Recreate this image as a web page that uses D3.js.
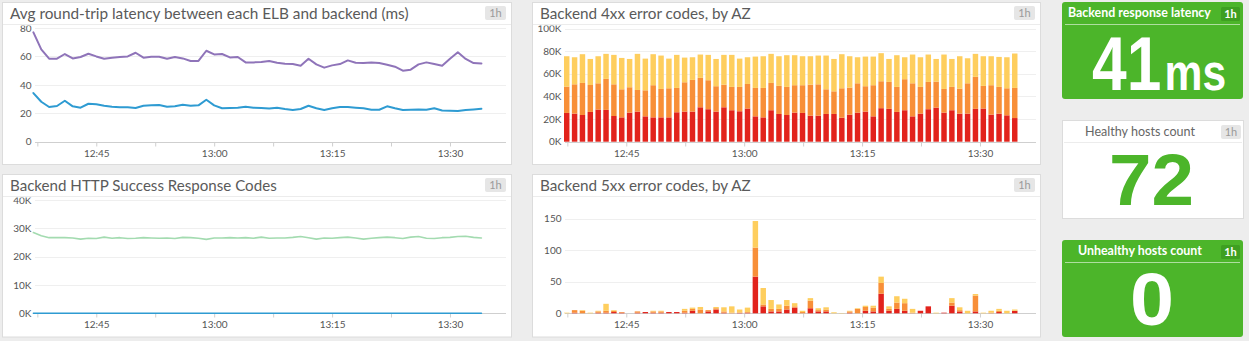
<!DOCTYPE html>
<html><head><meta charset="utf-8">
<script src="https://cdn.jsdelivr.net/npm/d3@7"></script>
<style>
html,body{margin:0;padding:0;background:#ededed;}
svg{display:block;font-family:Lato,"Open Sans",sans-serif;}
</style></head><body>
<svg id="c" width="1249" height="341"></svg>
<script>
// ---------- data ----------
const minutes = ["12:37","12:38","12:39","12:40","12:41","12:42","12:43","12:44","12:45","12:46",
"12:47","12:48","12:49","12:50","12:51","12:52","12:53","12:54","12:55","12:56",
"12:57","12:58","12:59","13:00","13:01","13:02","13:03","13:04","13:05","13:06",
"13:07","13:08","13:09","13:10","13:11","13:12","13:13","13:14","13:15","13:16",
"13:17","13:18","13:19","13:20","13:21","13:22","13:23","13:24","13:25","13:26",
"13:27","13:28","13:29","13:30","13:31","13:32","13:33","13:34"];
const timeDomain = ["12:37","13:37"];
const timeTickLabels = ["12:45","13:00","13:15","13:30"];
const timeMinorTicks = ["12:37:30","12:52:30","13:07:30","13:22:30"];

// Avg round-trip latency (ms)
const latencyPurple = [76.9,65.0,58.4,58.4,61.7,58.6,59.6,61.9,60.0,58.4,
59.1,59.6,60.0,62.6,59.1,59.8,59.8,58.4,59.6,58.6,
56.8,56.8,64.0,61.4,61.7,59.3,59.6,55.8,55.8,56.1,
56.8,55.6,54.9,54.6,53.5,58.4,54.4,52.1,53.7,54.6,
57.2,55.6,55.3,55.8,55.3,54.2,52.8,50.0,50.7,54.4,
55.8,54.6,53.5,58.4,62.9,58.2,55.3,55.1];
const latencyBlue = [34.2,28.1,24.4,25.1,28.8,24.9,23.9,26.7,26.3,25.3,
24.6,24.2,24.2,23.7,25.3,25.6,25.8,24.6,24.9,26.0,
25.3,25.6,29.5,25.6,23.5,23.7,23.9,24.6,23.9,23.7,
23.3,23.9,23.0,22.3,23.0,25.3,23.5,22.3,23.5,24.4,
24.4,23.9,23.5,22.5,22.5,24.9,23.5,22.3,22.5,22.7,
22.5,23.5,22.0,21.8,21.6,22.3,22.7,23.2];
const latencyTicks = [0,20,40,60,80];

// Backend HTTP success response codes
const success2xx = [28500,27400,26700,26700,26700,26600,26200,26500,26400,26900,
26500,26700,26400,26500,26700,26600,26500,26600,26400,26800,
26700,26500,26100,26600,26600,26700,26600,26700,26500,26900,
26500,26600,26600,26800,27100,26700,26200,26600,26500,26700,
26900,26600,26200,26500,26700,26900,26700,26400,26900,27100,
26500,26400,26700,26800,27100,27200,26800,26600];
const success3xx = [0,0,0,0,0,0,0,0,0,0, 0,0,0,0,0,0,0,0,0,0,
0,0,0,0,0,0,0,0,0,0, 0,0,0,0,0,0,0,0,0,0,
0,0,0,0,0,0,0,0,0,0, 0,0,0,0,0,0,0,0];
const successTicks = [0,10000,20000,30000,40000];

// Backend 4xx error codes by AZ
const err4xxAZa = [25400,24800,23600,26300,28400,28100,22700,21500,25700,26600,
22400,21500,21500,21500,26000,26600,26600,30400,28700,26600,
30400,27800,26900,29300,22400,21500,27800,24500,23600,25700,
25400,23000,23000,24500,24500,21200,23900,25700,26600,22400,
29600,29000,26300,27800,22400,24800,28700,30100,25700,27800,
24800,24800,29000,29300,23900,24800,23300,20900];
const err4xxAZb = [23300,25900,28300,23800,23200,27400,28000,24800,22400,19100,
23000,28400,25100,25700,21500,25900,28000,26000,25600,22400,
20000,20600,21500,21700,25100,26000,24100,24800,24800,24200,
24500,27400,27700,21800,20000,26000,23900,25900,22400,27500,
23800,23800,22100,27400,29200,23600,24100,23000,20900,20600,
22100,26800,28300,20000,26000,23600,23900,26600];
const err4xxAZc = [26800,23900,25400,23000,23900,22100,26000,27700,25000,31900,
28000,27400,29500,26200,29200,21800,20000,20600,22400,24100,
26300,28300,25000,23600,27700,28000,25700,26200,28000,26500,
25600,25100,25400,29800,28600,30100,27700,23000,26200,25300,
24800,20300,28000,19400,25400,26200,24200,20000,30400,24700,
28600,22100,20300,26200,25600,26500,27400,30400];
const err4xxTicks = [0,20000,40000,60000,80000,100000];

// Backend 5xx error codes by AZ
const err5xxAZa = [0,1,0,0,1,1,2,1,0,1, 2,1,1,2,2,1,4,0,3,6,
1,0,1,1,58,11,3,3,6,9, 0,8,3,3,0,0,1,0,4,3,
31,4,7,4,0,4,11,0,1,12, 3,0,3,0,0,2,0,4];
const err5xxAZb = [0,4,4,0,2,3,2,1,0,2, 0,2,2,0,0,3,3,6,2,2,
2,1,0,1,46,3,4,4,6,2, 2,12,2,3,0,0,2,7,6,6,
17,3,10,12,1,0,0,0,0,5, 2,0,25,0,1,2,0,0];
const err5xxAZc = [1,0,1,1,1,11,1,0,0,0, 0,1,1,0,0,3,2,4,0,2,
6.5,10,5,7,42,26,14,7,9,5, 2,4,3,3.5,1.6,0.5,1,1,2,3,
10,4,10,7,6,0,0,1,0,7, 4.5,4,2.5,1,3,3,4,2];
const err5xxTicks = [0,50,100,150];

// Query values
const latencyValue = 41, latencyUnit = "ms";
const healthyHosts = 72;
const unhealthyHosts = 0;

// ---------- drawing ----------
const svg = d3.select("#c");
svg.append("rect").attr("width",1249).attr("height",341).attr("fill","#ededed");
const defs = svg.append("defs");

const tp = d3.timeParse("%H:%M");
const tps = d3.timeParse("%H:%M:%S");
const times = minutes.map(tp);
const tDomain = timeDomain.map(tp);
const majorTicks = timeTickLabels.map(tp);
const minorTicks = timeMinorTicks.map(tps);
const allTicks = majorTicks.concat(minorTicks);
const fmtHM = d3.timeFormat("%H:%M");

const C = {
  title:"#5a5a5a", tick:"#555", grid:"#efefef", axis:"#cfcfcf",
  purple:"#8f74b9", blue:"#2e9bd2", green:"#a3dbb0",
  red:"#e2231c", orange:"#f88f38", yellow:"#fece5e",
  okGreen:"#4cb52a", badgeGreen:"#3e9f21"
};
const BIG = "'Liberation Sans',Arial,sans-serif";

// place a text at (x, baseline y) and squeeze it horizontally to a target width
function fit(t, x, y, target) {
  t.attr("x",0).attr("y",0);
  const w = t.node().getComputedTextLength();
  t.attr("transform",`translate(${x},${y}) scale(${(target/w).toFixed(4)},1)`);
  return t;
}

let clipId = 0;
function panel(px, py, pw, ph, title, titleLen) {
  const g = svg.append("g");
  g.append("rect").attr("x",px+0.5).attr("y",py+0.5).attr("width",pw).attr("height",ph)
    .attr("fill","#fff").attr("stroke","#dcdcdc");
  g.append("line").attr("x1",px+1).attr("x2",px+pw).attr("y1",py+22.5).attr("y2",py+22.5)
    .attr("stroke","#ececec");
  const t = g.append("text").text(title).attr("font-size",15.5).attr("fill",C.title);
  fit(t, px+8, py+16.5, titleLen);
  g.append("rect").attr("x",px+pw-26).attr("y",py+4).attr("width",21).attr("height",14)
    .attr("rx",2).attr("fill","#e6e6e6");
  g.append("text").attr("x",px+pw-15.5).attr("y",py+15).attr("text-anchor","middle")
    .attr("font-size",11).attr("fill","#9a9a9a").text("1h");
  const id = "clip"+(clipId++);
  defs.append("clipPath").attr("id",id).append("rect")
    .attr("x",px+1).attr("y",py+23.5).attr("width",pw-1).attr("height",ph-23.5);
  return g.append("g").attr("clip-path",`url(#${id})`);
}

function axes(g, off, y, yTicks, yFmt) {
  const x = d3.scaleTime().domain(tDomain).range([off+33.4, off+505]);
  const yBase = y(0);
  g.append("g").selectAll("line").data(yTicks.filter(v=>v>0)).join("line")
    .attr("x1",off+35).attr("x2",off+506)
    .attr("y1",d=>Math.round(y(d))+0.5).attr("y2",d=>Math.round(y(d))+0.5)
    .attr("stroke",C.grid).attr("stroke-width",1);
  const ya = g.append("g").attr("transform",`translate(${off+31.5},0)`)
    .call(d3.axisLeft(y).tickValues(yTicks).tickSize(0).tickPadding(0).tickFormat(yFmt));
  ya.select(".domain").remove();
  ya.selectAll("text").attr("font-size",10).attr("fill",C.tick).attr("font-family","Lato,'Open Sans',sans-serif");
  const xa = g.append("g").attr("transform",`translate(0,${Math.round(yBase)+0.5})`)
    .call(d3.axisBottom(x).tickValues(allTicks).tickSize(4).tickPadding(3)
      .tickFormat(d => majorTicks.some(m=>+m===+d) ? fmtHM(d) : ""));
  xa.select(".domain").attr("d",`M${off+35},0H${off+506}`).attr("stroke",C.axis);
  xa.selectAll(".tick line").attr("stroke",C.axis);
  xa.selectAll("text").attr("font-size",10).attr("fill",C.tick).attr("font-family","Lato,'Open Sans',sans-serif");
  return x;
}

function drawLine(g, x, y, vals, color, w) {
  g.append("path").datum(vals)
    .attr("d", d3.line().x((d,i)=>x(times[i])).y(d=>y(d)))
    .attr("fill","none").attr("stroke",color).attr("stroke-width",w)
    .attr("stroke-linejoin","round").attr("stroke-linecap","round");
}

function drawStack(g, x, y, a, b, c) {
  const table = minutes.map((m,i)=>({t:times[i], a:a[i], b:b[i], c:c[i]}));
  const series = d3.stack().keys(["a","b","c"])(table);
  const colors = {a:C.red, b:C.orange, c:C.yellow};
  const step = x(times[1]) - x(times[0]);
  g.append("g").selectAll("g").data(series).join("g").attr("fill",s=>colors[s.key])
    .selectAll("rect").data(s=>s).join("rect")
    .attr("x",d=>x(d.data.t)+0.6).attr("width",step-2.4)
    .attr("y",d=>y(d[1])).attr("height",d=>Math.max(0,y(d[0])-y(d[1])));
}

{
  const g = panel(2,2,509,162,"Avg round-trip latency between each ELB and backend (ms)",399);
  const y = d3.scaleLinear().domain([0,80]).range([141.7,28]);
  const x = axes(g, 0, y, latencyTicks, d=>d);
  drawLine(g, x, y, latencyPurple, C.purple, 2);
  drawLine(g, x, y, latencyBlue, C.blue, 2);
}
{
  const g = panel(2,174,509,162.5,"Backend HTTP Success Response Codes",267);
  const y = d3.scaleLinear().domain([0,40000]).range([313.3,200]);
  const x = axes(g, 0, y, successTicks, d=>d/1000+"K");
  drawLine(g, x, y, success2xx, C.green, 1.6);
  drawLine(g, x, y, success3xx, C.blue, 1.6);
}
{
  const g = panel(532,2,508,162,"Backend 4xx error codes, by AZ",211);
  const y = d3.scaleLinear().domain([0,100000]).range([141.7,28.5]);
  const x = axes(g, 530, y, err4xxTicks, d=>d/1000+"K");
  drawStack(g, x, y, err4xxAZa, err4xxAZb, err4xxAZc);
}
{
  const g = panel(532,174,508,162.5,"Backend 5xx error codes, by AZ",211);
  const y = d3.scaleLinear().domain([0,150]).range([313.3,218.5]);
  const x = axes(g, 530, y, err5xxTicks, d=>d);
  drawStack(g, x, y, err5xxAZa, err5xxAZb, err5xxAZc);
}

// ---------- query value tiles ----------
function tile(y0, h, green, title, titleX, titleLen) {
  const g = svg.append("g");
  if (green) {
    g.append("rect").attr("x",1062).attr("y",y0).attr("width",181).attr("height",h)
      .attr("rx",3).attr("fill",C.okGreen);
    g.append("line").attr("x1",1065).attr("x2",1240).attr("y1",y0+22.5).attr("y2",y0+22.5)
      .attr("stroke","#ffffff").attr("stroke-opacity",0.55);
    const t = g.append("text").text(title)
      .attr("font-size",12.5).attr("font-weight",700).attr("fill","#fff");
    fit(t, titleX, y0+15, titleLen);
    g.append("rect").attr("x",1221).attr("y",y0+5).attr("width",19).attr("height",14)
      .attr("rx",1.5).attr("fill",C.badgeGreen);
    g.append("text").attr("x",1230.5).attr("y",y0+16).attr("text-anchor","middle")
      .attr("font-size",11).attr("font-weight",700).attr("fill","#fff").text("1h");
  } else {
    g.append("rect").attr("x",1062.5).attr("y",y0+0.5).attr("width",181).attr("height",h)
      .attr("fill","#fff").attr("stroke","#dcdcdc");
    g.append("line").attr("x1",1064).attr("x2",1242).attr("y1",y0+22.5).attr("y2",y0+22.5)
      .attr("stroke","#ececec");
    const t = g.append("text").text(title).attr("font-size",12.5).attr("fill","#666");
    fit(t, titleX, y0+15.5, titleLen);
    g.append("rect").attr("x",1221).attr("y",y0+5).attr("width",20).attr("height",14)
      .attr("rx",2).attr("fill","#e6e6e6");
    g.append("text").attr("x",1231).attr("y",y0+16).attr("text-anchor","middle")
      .attr("font-size",11).attr("fill","#9a9a9a").text("1h");
  }
  return g;
}

{
  const g = tile(2, 97, true, "Backend response latency", 1068, 143);
  const big = g.append("text").attr("font-family",BIG).attr("font-weight",700).attr("fill","#fff");
  big.append("tspan").attr("font-size",76).text(latencyValue);
  big.append("tspan").attr("font-size",52).attr("dx",4).text(latencyUnit);
  fit(big, 1092, 90, 131);
}
{
  const g = tile(120, 98, false, "Healthy hosts count", 1085, 110);
  const t = g.append("text").text(healthyHosts).attr("font-family",BIG)
    .attr("font-size",72).attr("font-weight",700).attr("fill",C.okGreen);
  fit(t, 1109, 205, 85);
}
{
  const g = tile(240, 97, true, "Unhealthy hosts count", 1078, 124);
  const t = g.append("text").text(unhealthyHosts).attr("font-family",BIG)
    .attr("font-size",74).attr("font-weight",700).attr("fill","#fff");
  fit(t, 1130, 325, 44);
}
</script>
</body></html>
